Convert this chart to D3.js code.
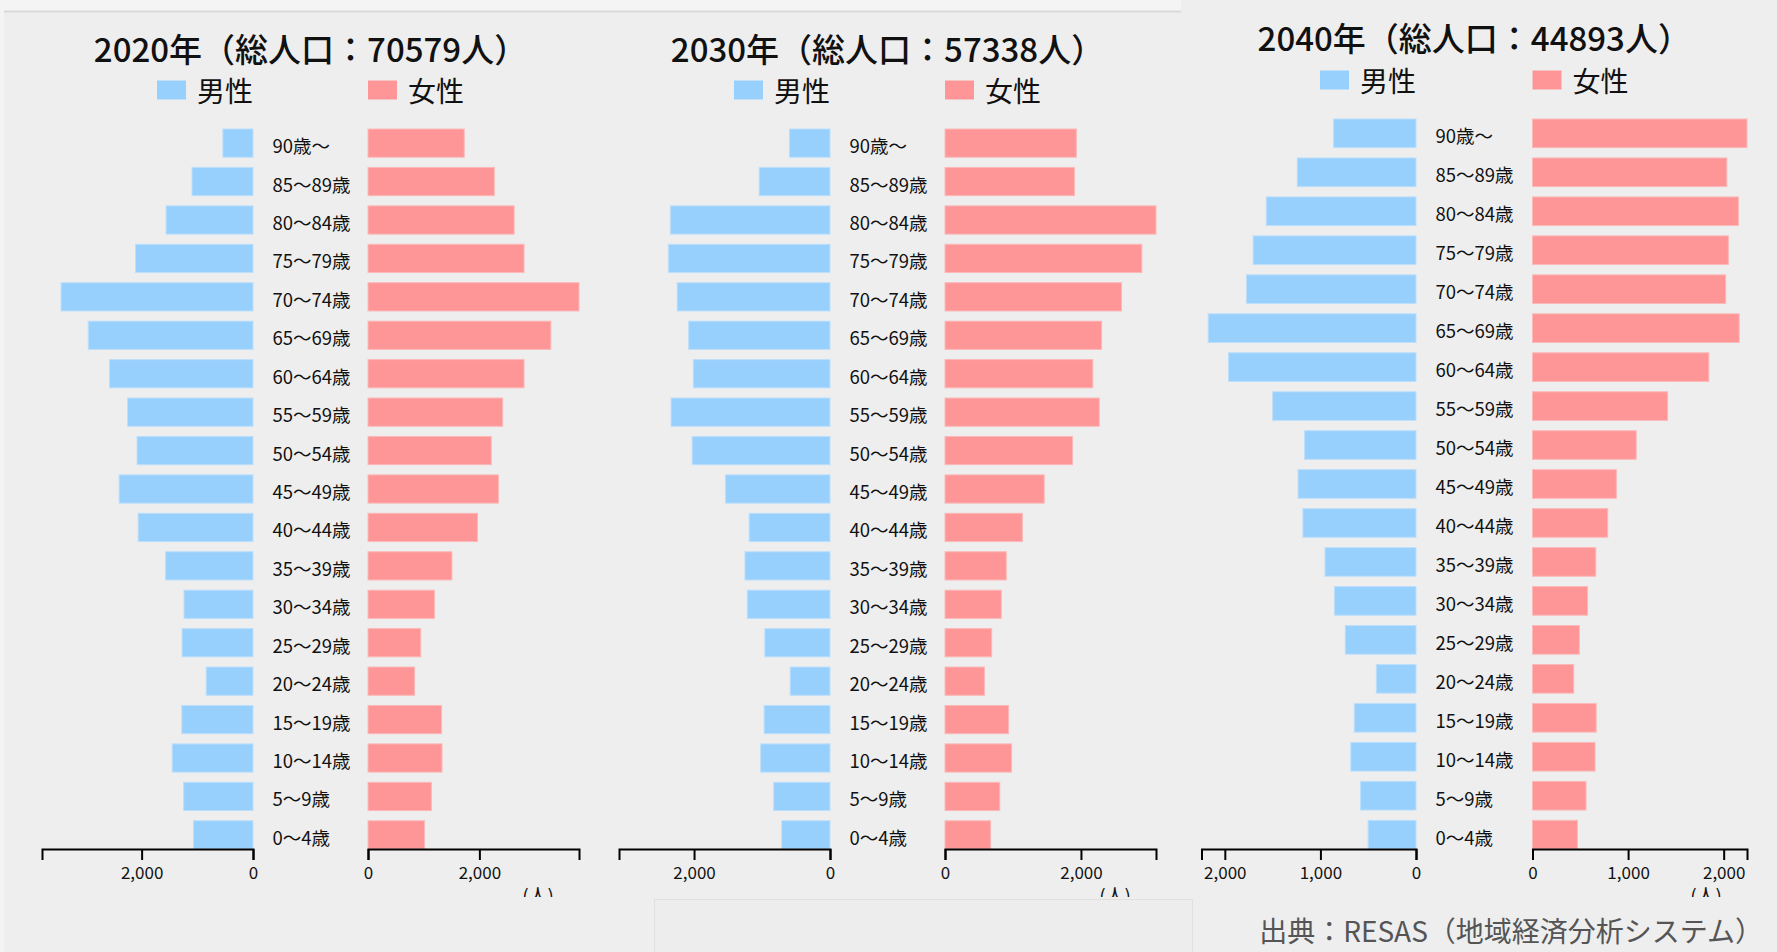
<!DOCTYPE html>
<html>
<head>
<meta charset="utf-8">
<style>
    body { margin: 0; background: #eeeeee; overflow: hidden; }
    svg text { font-family: "Noto Sans CJK JP", "Noto Sans", sans-serif; fill: #111; }
</style>
</head>
<body>
    <svg id="chart"></svg>
<script src="https://cdnjs.cloudflare.com/ajax/libs/d3/7.8.5/d3.min.js"></script>
<script>
    // data
    const ageGroups = ["90歳〜", "85〜89歳", "80〜84歳", "75〜79歳", "70〜74歳", "65〜69歳", "60〜64歳",
        "55〜59歳", "50〜54歳", "45〜49歳", "40〜44歳", "35〜39歳", "30〜34歳", "25〜29歳", "20〜24歳",
        "15〜19歳", "10〜14歳", "5〜9歳", "0〜4歳"];
    const years = [2020, 2030, 2040];
    const totals = [70579, 57338, 44893];
    const male2020 = [541, 1095, 1561, 2109, 3447, 2959, 2576, 2254, 2082, 2404, 2062, 1568, 1239, 1274, 841, 1279, 1451, 1246, 1069];
    const female2020 = [1728, 2268, 2624, 2802, 3789, 3283, 2802, 2418, 2214, 2343, 1967, 1507, 1192, 947, 836, 1322, 1329, 1138, 1015];
    const male2030 = [597, 1042, 2349, 2378, 2248, 2079, 2011, 2338, 2028, 1538, 1189, 1251, 1217, 958, 586, 969, 1020, 828, 710];
    const female2030 = [1932, 1904, 3104, 2896, 2597, 2304, 2175, 2270, 1876, 1459, 1138, 901, 828, 687, 580, 935, 980, 806, 670];
    const male2040 = [862, 1242, 1567, 1704, 1774, 2174, 1962, 1500, 1167, 1234, 1183, 952, 854, 740, 415, 646, 682, 580, 501];
    const female2040 = [2244, 2033, 2154, 2049, 2021, 2162, 1845, 1414, 1085, 877, 787, 662, 576, 490, 431, 666, 654, 560, 470];
    const legendLabels = ["男性", "女性"];
    const unitLabel = "(人)";
    const sourceText = "出典：RESAS（地域経済分析システム）";

    const maleData = [male2020, male2030, male2040];
    const femaleData = [female2020, female2030, female2040];

    const width = 1777,
        height = 952,
        axisY = 849;

    const blue = "#97cffd", blueEdge = "#bcdffb",
        pink = "#fe9697", pinkEdge = "#fbb9b9";

    // where each pyramid sits
    const layouts = [
        { maleZero: 253, femaleZero: 368, half: 211, top: 129, titleY: 62, legendY: 90 },
        { maleZero: 830, femaleZero: 945, half: 211, top: 129, titleY: 62, legendY: 90 },
        { maleZero: 1416, femaleZero: 1532.5, half: 214.5, top: 119, titleY: 51, legendY: 80 }
    ];

    const svg = d3.select('#chart')
        .attr('width', width)
        .attr('height', height);

    // page frame bits
    svg.append('rect').attr('x', 0).attr('y', 0).attr('width', 1181).attr('height', 11).attr('fill', '#f4f4f4');
    svg.append('rect').attr('x', 0).attr('y', 0).attr('width', 4).attr('height', height).attr('fill', '#f4f4f4');
    svg.append('line').attr('x1', 4).attr('x2', 1181).attr('y1', 11.5).attr('y2', 11.5)
        .attr('stroke', '#d9d9d9').attr('stroke-width', 2);
    svg.append('rect').attr('x', 654.5).attr('y', 899.5).attr('width', 538).attr('height', 60)
        .attr('fill', '#ededed').attr('stroke', '#e0e0e0');

    svg.append('clipPath').attr('id', 'clip')
        .append('rect').attr('x', 0).attr('y', 0).attr('width', width).attr('height', 897);

    layouts.forEach((L, i) => {
        const male = maleData[i], female = femaleData[i];
        const max = d3.max(male.concat(female));

        const xm = d3.scaleLinear().domain([0, max]).range([L.maleZero, L.maleZero - L.half]);
        const xf = d3.scaleLinear().domain([0, max]).range([L.femaleZero, L.femaleZero + L.half]);
        const y = d3.scaleBand().domain(ageGroups).range([L.top, axisY]).paddingInner(0.265).paddingOuter(0);

        const g = svg.append('g').attr('clip-path', 'url(#clip)');

        g.append('text')
            .attr('x', (L.maleZero + L.femaleZero) / 2)
            .attr('y', L.titleY)
            .attr('text-anchor', 'middle')
            .attr('font-size', 33)
            .attr('font-weight', 500)
            .text(years[i] + '年（総人口：' + totals[i] + '人）');

        // legend
        g.append('rect').attr('x', L.maleZero - 96).attr('y', L.legendY - 9.5)
            .attr('width', 29).attr('height', 19).attr('fill', blue);
        g.append('text').attr('x', L.maleZero).attr('y', L.legendY)
            .attr('text-anchor', 'end').attr('dominant-baseline', 'central')
            .attr('font-size', 28).text(legendLabels[0]);
        g.append('rect').attr('x', L.femaleZero).attr('y', L.legendY - 9.5)
            .attr('width', 29).attr('height', 19).attr('fill', pink);
        g.append('text').attr('x', L.femaleZero + 40).attr('y', L.legendY)
            .attr('dominant-baseline', 'central')
            .attr('font-size', 28).text(legendLabels[1]);

        g.append('g')
            .selectAll('rect')
            .data(male)
            .enter().append('rect')
            .attr('x', d => xm(d))
            .attr('y', (d, j) => y(ageGroups[j]))
            .attr('width', d => xm(0) - xm(d))
            .attr('height', y.bandwidth())
            .attr('fill', blue)
            .attr('stroke', blueEdge);

        g.append('g')
            .selectAll('rect')
            .data(female)
            .enter().append('rect')
            .attr('x', xf(0))
            .attr('y', (d, j) => y(ageGroups[j]))
            .attr('width', d => xf(d) - xf(0))
            .attr('height', y.bandwidth())
            .attr('fill', pink)
            .attr('stroke', pinkEdge);

        g.append('g')
            .selectAll('text')
            .data(ageGroups)
            .enter().append('text')
            .attr('x', L.maleZero + 19.5)
            .attr('y', d => y(d) + y.bandwidth() / 2 + 2)
            .attr('dominant-baseline', 'central')
            .attr('font-size', 18.5)
            .text(d => d);

        [xm, xf].forEach(sc => {
            const ax = g.append('g')
                .attr('transform', `translate(0,${axisY})`)
                .call(d3.axisBottom(sc).ticks(2).tickSize(11).tickPadding(7));
            ax.select('.domain').attr('stroke', '#000').attr('stroke-width', 2);
            ax.selectAll('.tick line').attr('stroke', '#000').attr('stroke-width', 2);
            ax.selectAll('.tick text')
                .attr('font-size', 17)
                .attr('font-family', '"Noto Sans CJK JP", sans-serif')
                .attr('fill', '#111');
        });

        g.append('text')
            .attr('x', L.femaleZero + L.half - 25)
            .attr('y', 894)
            .attr('text-anchor', 'end')
            .attr('dominant-baseline', 'central')
            .attr('font-size', 19)
            .text(unitLabel);
    });

    svg.append('text')
        .attr('x', 1763)
        .attr('y', 930)
        .attr('text-anchor', 'end')
        .attr('dominant-baseline', 'central')
        .attr('font-size', 28)
        .style('fill', '#555')
        .text(sourceText);
</script>
</body>
</html>
